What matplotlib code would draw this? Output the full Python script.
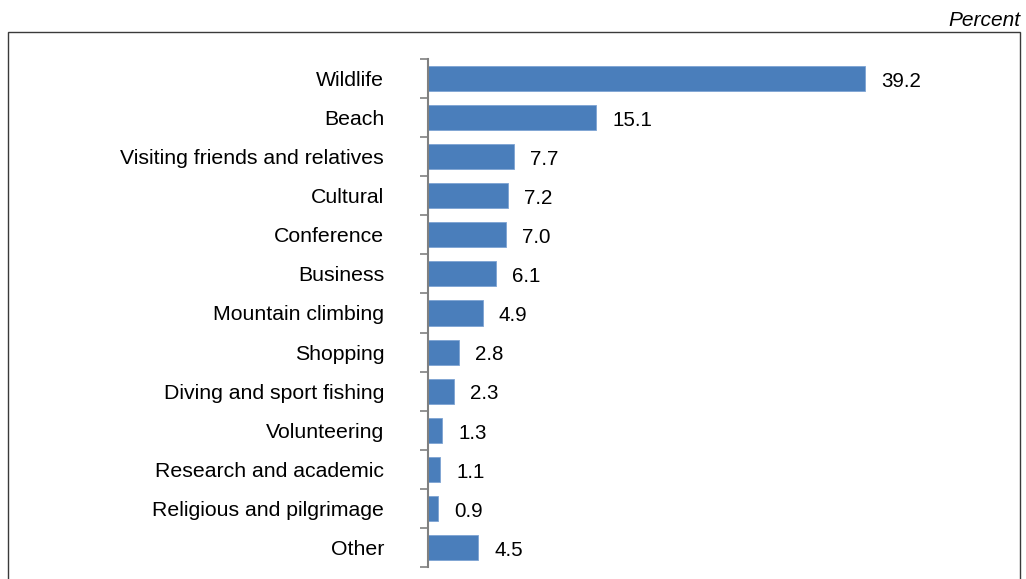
import numpy as np
import matplotlib
matplotlib.use("Agg")
from matplotlib import pyplot as plt
from matplotlib.patches import Rectangle

# data
categories = ["Wildlife", "Beach", "Visiting friends and relatives", "Cultural",
              "Conference", "Business", "Mountain climbing", "Shopping",
              "Diving and sport fishing", "Volunteering", "Research and academic",
              "Religious and pilgrimage", "Other"]
percent = [39.2, 15.1, 7.7, 7.2, 7.0, 6.1, 4.9, 2.8, 2.3, 1.3, 1.1, 0.9, 4.5]

plt.rcParams['font.family'] = ['Liberation Sans', 'DejaVu Sans']

W, H = 1026, 579
fig = plt.figure(figsize=(W / 100, H / 100), dpi=100)

# outer frame
fig.patches.append(Rectangle((8 / W, -0.01), (1020 - 8) / W, 1.01 - 32 / H,
                             transform=fig.transFigure, fill=False,
                             edgecolor='#3a3a3a', linewidth=1.0))
fig.text(1020 / W, 1 - 26 / H, "Percent", ha='right', va='baseline',
         fontsize=15, style='italic')

ax = fig.add_axes([428 / W, 12 / H, (1015 - 428) / W, (567 - 59) / H])
n = len(categories)
y = np.arange(n)
ax.barh(y, percent, height=0.64, color='#4A7EBB', edgecolor='#7da3d3', linewidth=0.6)
ax.set_ylim(n - 0.5, -0.5)
ax.set_xlim(0, (1015 - 428) / 11.15)

for yi, v in zip(y, percent):
    ax.annotate(f"{v:.1f}", (v, yi), xytext=(11.5, -2), textcoords='offset points',
                va='center', ha='left', fontsize=14.8)

ax.set_yticks(y)
ax.set_yticklabels(categories, fontsize=15.3)
ax.tick_params(axis='y', which='major', length=0, pad=31.5)
ax.set_yticks(np.arange(n + 1) - 0.5, minor=True)
ax.tick_params(axis='y', which='minor', length=6, width=1.2, color='#808080')
ax.set_xticks([])
for s in ['top', 'right', 'bottom']:
    ax.spines[s].set_visible(False)
ax.spines['left'].set_color('#808080')
ax.spines['left'].set_linewidth(1.5)
ax.patch.set_alpha(0)

fig.savefig("out.png", dpi=100)
